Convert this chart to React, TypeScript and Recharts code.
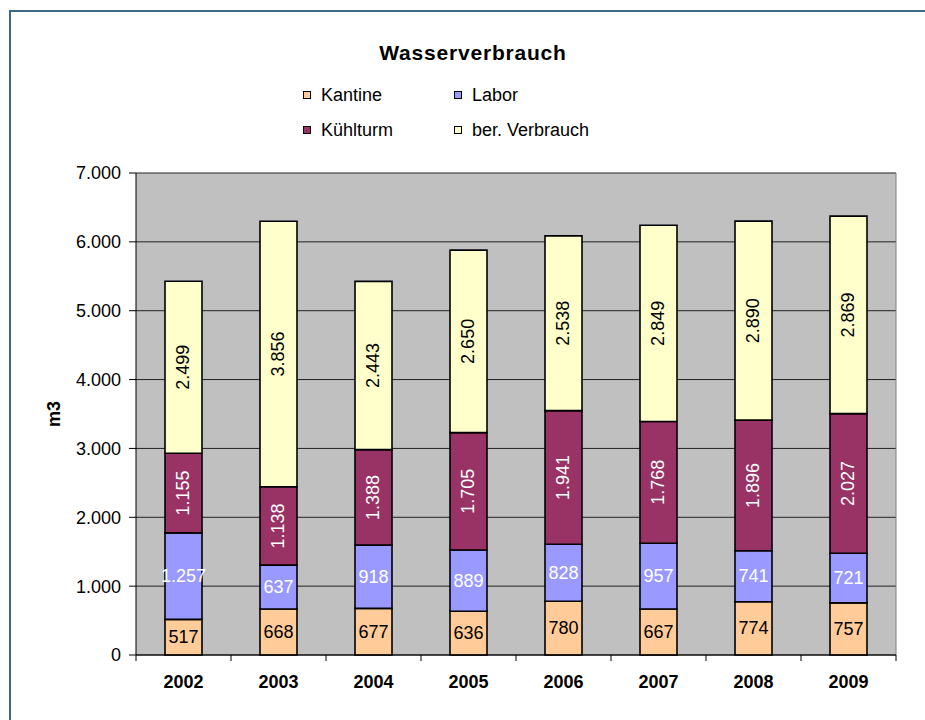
import React from 'react';
import { BarChart, Bar, XAxis, YAxis, CartesianGrid, Legend, LabelList } from 'recharts';

const years = ['2002', '2003', '2004', '2005', '2006', '2007', '2008', '2009'];
const kantine = [517, 668, 677, 636, 780, 667, 774, 757];
const labor = [1257, 637, 918, 889, 828, 957, 741, 721];
const kuehlturm = [1155, 1138, 1388, 1705, 1941, 1768, 1896, 2027];
const verbrauch = [2499, 3856, 2443, 2650, 2538, 2849, 2890, 2869];
const yTicks = [0, 1000, 2000, 3000, 4000, 5000, 6000, 7000];

const seriesKeys = ['kantine', 'labor', 'kuehlturm', 'verbrauch'];
const seriesNames: Record<string, string> = { kantine: 'Kantine', labor: 'Labor', kuehlturm: 'Kühlturm', verbrauch: 'ber. Verbrauch' };
const colors: Record<string, string> = { kantine: '#FFCC99', labor: '#9999FF', kuehlturm: '#993366', verbrauch: '#FFFFCC' };

const data = years.map((y, i) => ({
  year: y,
  kantine: kantine[i],
  labor: labor[i],
  kuehlturm: kuehlturm[i],
  verbrauch: verbrauch[i],
}));

const FONT = "Arial, 'Liberation Sans', sans-serif";
const W = 925;
const H = 720;
const M = { top: 173, right: 29, bottom: 35, left: 56 };
const Y_W = 80;
const X_H = 30;
const PLOT_W = W - M.left - Y_W - M.right;
const BAND = PLOT_W / years.length;

const fmt = (v: number) => String(v).replace(/\B(?=(\d{3})+(?!\d))/g, '.');

const makeLabel = (color: string, rotate: boolean) => (props: any) => {
  const { x, y, width, height, value } = props;
  const cx = Number(x) + Number(width) / 2;
  const cy = Number(y) + Number(height) / 2;
  return (
    <text
      x={cx}
      y={cy}
      fill={color}
      fontSize={18}
      fontFamily={FONT}
      textAnchor="middle"
      dominantBaseline="central"
      transform={rotate ? `rotate(-90 ${cx} ${cy})` : undefined}
    >
      {fmt(Number(value))}
    </text>
  );
};

const XTick = (props: any) => {
  const { x, y, payload, index } = props;
  const left = x - BAND / 2;
  const right = x + BAND / 2;
  return (
    <g>
      <line x1={left} y1={y} x2={left} y2={y + 6} stroke="#000" strokeWidth={1} />
      {index === years.length - 1 && <line x1={right} y1={y} x2={right} y2={y + 6} stroke="#000" strokeWidth={1} />}
      <text x={x} y={y + 27} textAnchor="middle" dominantBaseline="central" fontSize={18} fontWeight="bold" fontFamily={FONT} fill="#000">
        {payload.value}
      </text>
    </g>
  );
};

const legendPos: Record<string, { left: number; top: number }> = {
  kantine: { left: 303, top: 95 },
  labor: { left: 454, top: 95 },
  kuehlturm: { left: 303, top: 130 },
  verbrauch: { left: 454, top: 130 },
};

const LegendContent = (props: any) => {
  const items = props.payload || [];
  return (
    <div style={{ position: 'relative', width: W, height: 0 }}>
      {items.map((it: any) => {
        const p = legendPos[String(it.dataKey)] || { left: 0, top: 0 };
        return (
          <div
            key={String(it.dataKey)}
            style={{
              position: 'absolute',
              left: p.left,
              top: p.top - 11,
              height: 22,
              display: 'flex',
              alignItems: 'center',
              fontFamily: FONT,
              fontSize: 18,
              color: '#000',
              whiteSpace: 'nowrap',
            }}
          >
            <span style={{ display: 'inline-block', width: 6, height: 6, background: it.color, border: '1px solid #000', marginRight: 10 }} />
            {it.value}
          </div>
        );
      })}
    </div>
  );
};

export default function App() {
  return (
    <div style={{ position: 'absolute', left: 0, top: 0, width: W, height: H, overflow: 'hidden', background: '#fff' }}>
      <div
        style={{
          position: 'absolute',
          left: 9,
          top: 10,
          width: 1200,
          height: 1200,
          borderLeft: '2px solid #3C6A80',
          borderTop: '2px solid #3C6A80',
        }}
      />
      <div
        style={{
          position: 'absolute',
          left: 0,
          top: 41,
          width: 946,
          textAlign: 'center',
          fontFamily: FONT,
          fontSize: 21,
          fontWeight: 'bold',
          letterSpacing: 0.8,
          lineHeight: '24px',
        }}
      >
        Wasserverbrauch
      </div>
      <div style={{ position: 'absolute', left: 0, top: 0 }}>
        <BarChart width={W} height={H} data={data} margin={M} barSize={37}>
          <CartesianGrid vertical={false} horizontal={true} stroke="#222" strokeWidth={1} fill="#C0C0C0" fillOpacity={1} />
          <CartesianGrid
            horizontal={false}
            vertical={true}
            stroke="#808080"
            verticalCoordinatesGenerator={(p: any) => [p.offset.left + p.offset.width]}
          />
          <XAxis
            dataKey="year"
            height={X_H}
            axisLine={{ stroke: '#000' }}
            tickLine={false}
            tickSize={0}
            tickMargin={0}
            tick={<XTick />}
            interval={0}
          />
          <YAxis
            width={Y_W}
            domain={[0, 7000]}
            ticks={yTicks}
            interval={0}
            axisLine={{ stroke: '#000' }}
            tickLine={{ stroke: '#000' }}
            tickSize={7}
            tickMargin={8}
            tick={{ fill: '#000', fontSize: 18, fontFamily: FONT }}
            tickFormatter={(v: number) => fmt(v)}
            label={{
              value: 'm3',
              angle: -90,
              position: 'insideLeft',
              offset: -2,
              style: { fontSize: 18, fontWeight: 'bold', fontFamily: FONT, fill: '#000', textAnchor: 'middle' },
            }}
          />
          <Legend
            layout="horizontal"
            verticalAlign="middle"
            align="center"
            wrapperStyle={{ position: 'absolute', left: 0, top: 0, width: W, height: 0 }}
            content={<LegendContent />}
          />
          {seriesKeys.map((k) => (
            <Bar
              key={k}
              dataKey={k}
              name={seriesNames[k]}
              stackId="a"
              fill={colors[k]}
              stroke="#000"
              strokeWidth={1.6}
              isAnimationActive={false}
            >
              <LabelList
                dataKey={k}
                content={makeLabel(k === 'labor' || k === 'kuehlturm' ? '#fff' : '#000', k === 'kuehlturm' || k === 'verbrauch')}
              />
            </Bar>
          ))}
        </BarChart>
      </div>
    </div>
  );
}
